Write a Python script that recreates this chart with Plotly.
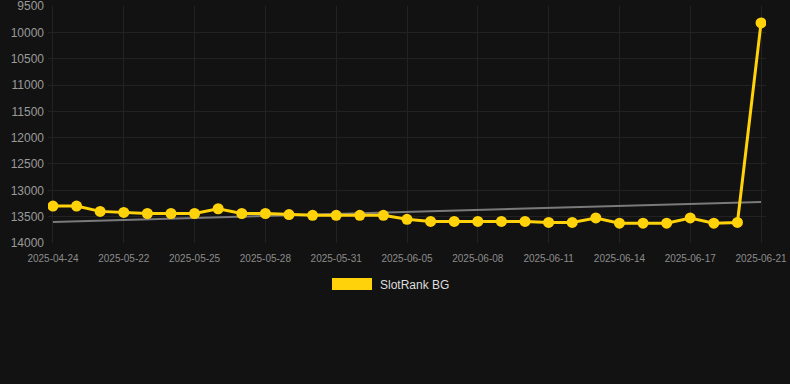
import plotly.graph_objects as go

dates = ["2025-04-24", "2025-05-20", "2025-05-21", "2025-05-22", "2025-05-23", "2025-05-24",
         "2025-05-25", "2025-05-26", "2025-05-27", "2025-05-28", "2025-05-29", "2025-05-30",
         "2025-05-31", "2025-06-02", "2025-06-03", "2025-06-05", "2025-06-06", "2025-06-07",
         "2025-06-08", "2025-06-09", "2025-06-10", "2025-06-11", "2025-06-12", "2025-06-13",
         "2025-06-14", "2025-06-15", "2025-06-16", "2025-06-17", "2025-06-18", "2025-06-19",
         "2025-06-21"]
rank = [13300, 13300, 13400, 13420, 13440, 13440, 13440, 13350, 13440, 13440, 13460, 13475,
        13475, 13475, 13475, 13550, 13590, 13590, 13590, 13590, 13590, 13610, 13610, 13525,
        13625, 13625, 13625, 13525, 13625, 13610, 9820]
trend_x = [dates[0], dates[-1]]
trend_y = [13600, 13220]
tick_labels = dates[::3]
y_ticks = [9500, 10000, 10500, 11000, 11500, 12000, 12500, 13000, 13500, 14000]
series_name = "SlotRank BG"

BG = "#121212"
GOLD = "#FFD20A"
GRID = "#222222"

fig = go.Figure()
fig.add_trace(go.Scatter(x=trend_x, y=trend_y, mode="lines",
                         line=dict(color="#7a7a7a", width=2), showlegend=False, hoverinfo="skip"))
fig.add_trace(go.Scatter(x=dates, y=rank, mode="lines+markers", name=series_name,
                         line=dict(color=GOLD, width=3),
                         marker=dict(color=GOLD, size=11), showlegend=False))

fig.update_layout(
    width=790, height=384,
    paper_bgcolor=BG, plot_bgcolor=BG,
    margin=dict(l=48, r=24, t=6, b=141),
    font=dict(family="Liberation Sans, Arial, sans-serif", color="#9a9a9a"),
    xaxis=dict(type="category", categoryorder="array", categoryarray=dates,
               range=[-0.21, len(dates) - 1 + 0.21], automargin=False,
               tickmode="array", tickvals=tick_labels, ticktext=tick_labels,
               tickfont=dict(size=10, color="#8c8c8c"),
               ticklabelstandoff=8, ticklabeloverflow="allow",
               showgrid=True, gridcolor=GRID, gridwidth=1, zeroline=False,
               showline=False, ticks=""),
    yaxis=dict(range=[14000.5, 9499.5], tickmode="array", tickvals=y_ticks,
               ticktext=[str(v) for v in y_ticks], automargin=False,
               tickfont=dict(size=12, color="#9a9a9a"),
               ticklabelstandoff=3, ticklabeloverflow="allow",
               showgrid=True, gridcolor=GRID, gridwidth=1, zeroline=False,
               showline=False, ticks=""),
)

# legend drawn as shape + text
fig.add_shape(type="rect", xref="paper", yref="paper",
              x0=(332 - 48) / 718, x1=(372 - 48) / 718,
              y0=(243 - 290) / 237, y1=(243 - 278) / 237,
              fillcolor=GOLD, line=dict(width=0))
fig.add_annotation(xref="paper", yref="paper", x=(378 - 48) / 718, y=(243 - 284.5) / 237,
                   text=series_name, showarrow=False, xanchor="left", yanchor="middle",
                   font=dict(size=12, color="#dddddd"))

fig.write_html("out.html", config={"displayModeBar": False},
               post_script="document.body.style.margin='0';document.body.style.background='#121212';")
